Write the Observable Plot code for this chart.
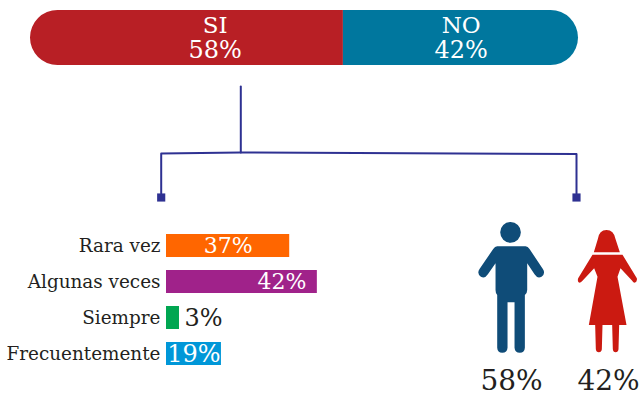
<!DOCTYPE html>
<html><head><meta charset="utf-8">
<script src="https://cdn.jsdelivr.net/npm/d3@7"></script>
<script src="https://cdn.jsdelivr.net/npm/@observablehq/plot@0.6"></script>
<style>
html,body{margin:0;padding:0;background:#fff}
#c{position:relative;width:642px;height:397px;overflow:hidden}
#c svg{position:absolute;left:0;top:0;background:transparent;overflow:visible}
</style></head><body><div id="c"></div>
<script>
const FONT = "'DejaVu Serif'";
// top split
const answers = ["SI","NO"];
const answerLabels = ["58%","42%"];
const answerDrawn = [57.1,42.9];
const answerLabelAt = [33.7,78.6];
const answerColors = ["#b81f25","#00779e"];
// frequency bars
const freq = ["Rara vez","Algunas veces","Siempre","Frecuentemente"];
const freqLabels = ["37%","42%","3%","19%"];
const freqDrawn = [37,45.3,3.9,16.5];
const freqColors = ["#ff6600","#a0228a","#00a651","#0097d8"];
// connector (overlay units = pixels of the page)
const trunk = [[240.3,86],[240.3,152]];
const branch = [[160.7,193],[160.7,153],[240,152],[576,153.5],[576,193]];
const ends = [[160.7,197],[576,197]];
// figures
const people = ["Hombre","Mujer"];
const peopleX = [510.7,607];
const peopleLabels = ["58%","42%"];
const peopleColors = ["#0f4c78","#cb1a11"];

const W=642,H=397;
const base={width:W,height:H,margin:0,style:{fontFamily:FONT,background:"transparent"}};
const top_=answers.map((a,i)=>({a,v:answerDrawn[i],l:answerLabels[i],at:answerLabelAt[i],c:answerColors[i]}));
let acc=0; top_.forEach(d=>{d.x1=acc;acc+=d.v;d.x2=acc;});

const topPlot=Plot.plot({...base,
  x:{domain:[0,100],range:[30,578],axis:null},
  y:{domain:[0,1],range:[65,10],axis:null},
  marks:[
    Plot.rectX([top_[0]],{x1:"x1",x2:"x2",y1:0,y2:1,fill:"c",rx1:27.5}),
    Plot.rectX([top_[1]],{x1:"x1",x2:"x2",y1:0,y2:1,fill:"c",rx2:27.5}),
    Plot.text(top_,{x:"at",y:0.72,text:"a",fill:"#fff",fontSize:23,lineAnchor:"middle"}),
    Plot.text(top_,{x:"at",y:0.27,text:"l",fill:"#fff",fontSize:24,lineAnchor:"middle"})
  ]});

const rows=freq.map((f,i)=>({f,v:freqDrawn[i],l:freqLabels[i],c:freqColors[i]}));
const freqPlot=Plot.plot({...base,
  x:{domain:[0,100],range:[166,499],axis:null},
  y:{domain:freq,range:[234,365],paddingInner:0.361,paddingOuter:0,round:false,label:null},
  marks:[
    Plot.axisY({anchor:"left",tickSize:0,tickPadding:0,dx:160,fontSize:18.4,textAnchor:"end",label:null,fill:"#231f20",lineWidth:20}),
    Plot.barX(rows,{x:"v",y:"f",fill:"c"}),
    Plot.text([rows[0]],{x:d=>d.v/2,y:"f",text:"l",fill:"#fff",fontSize:22}),
    Plot.text([rows[1]],{x:"v",y:"f",text:"l",fill:"#fff",fontSize:22,textAnchor:"end",dx:-11}),
    Plot.text([rows[2]],{x:"v",y:"f",text:"l",fill:"#231f20",fontSize:24,textAnchor:"start",dx:5}),
    Plot.text([rows[3]],{x:d=>d.v/2,y:"f",text:"l",fill:"#fff",fontSize:24})
  ]});

// custom icons: outline traced in a local grid, drawn by Plot.dot
const grid=(ctx,ox,oy)=>{const m=(x,y)=>[(x-ox)/3,(y-oy)/3];return{
  M:(x,y)=>ctx.moveTo(...m(x,y)),L:(x,y)=>ctx.lineTo(...m(x,y)),
  Q:(a,b,x,y)=>ctx.quadraticCurveTo(...m(a,b),...m(x,y)),Z:()=>ctx.closePath(),
  C:(x,y,r)=>{const p=m(x,y);ctx.moveTo(p[0]+r/3,p[1]);ctx.arc(p[0],p[1],r/3,0,2*Math.PI);}}};
const manSymbol={draw(ctx){const g=grid(ctx,122,225);
  g.C(120,52,31);
  g.M(80,94);g.L(165,94);g.Q(172,95,177,102);g.L(217,162);g.Q(226,176,213,185);g.Q(201,192,192,178);g.L(170,145);
  g.L(170,225);g.Q(170,235,163,240);g.L(163,398);g.Q(162,413,148,413);g.Q(133,413,132,398);g.L(132,262);g.L(111,262);g.L(111,398);g.Q(110,413,95,413);g.Q(81,413,80,398);g.L(80,240);g.Q(75,235,75,225);g.L(75,145);
  g.L(52,178);g.Q(43,192,31,185);g.Q(18,176,27,162);g.L(68,102);g.Q(73,95,80,94);g.Z();}};
const womanSymbol={draw(ctx){const g=grid(ctx,413,225);
  g.M(372,112);g.L(384,72);g.Q(388,45,410,45);g.Q(432,45,437,72);g.L(450,112);g.Z();
  g.M(368,119);g.L(458,119);g.L(501,190);g.Q(503,200,495,203);g.Q(490,203,487,197);g.L(452,160);g.L(443,185);g.L(470,330);g.L(448,330);
  g.L(446,403);g.Q(445,412,437,412);g.Q(430,412,429,403);g.L(427,330);g.L(398,330);g.L(396,403);g.Q(395,412,387,412);g.Q(379,412,378,403);g.L(376,330);g.L(357,330);
  g.L(383,185);g.L(373,160);g.L(338,197);g.Q(333,203,328,203);g.Q(322,199,325,190);g.Z();}};

const overlay=Plot.plot({...base,
  x:{domain:[0,W],range:[0,W],axis:null},
  y:{domain:[0,H],range:[0,H],axis:null},
  marks:[
    Plot.line(trunk,{x:"0",y:"1",stroke:"#2e3192",strokeWidth:2}),
    Plot.line(branch,{x:"0",y:"1",stroke:"#2e3192",strokeWidth:2}),
    Plot.dot(ends,{x:"0",y:"1",symbol:"square",r:4.6,fill:"#2e3192",stroke:"none"}),
    Plot.dot([people[0]],{x:()=>peopleX[0],y:()=>289.5,symbol:manSymbol,fill:peopleColors[0],stroke:"none"}),
    Plot.dot([people[1]],{x:()=>peopleX[1],y:()=>289.5,symbol:womanSymbol,fill:peopleColors[1],stroke:"none"}),
    Plot.text(peopleLabels,{x:(d,i)=>[511,608][i],y:()=>381,text:d=>d,fontSize:28,fill:"#231f20"})
  ]});

const c=document.getElementById("c");
c.append(topPlot,freqPlot,overlay);
</script></body></html>
